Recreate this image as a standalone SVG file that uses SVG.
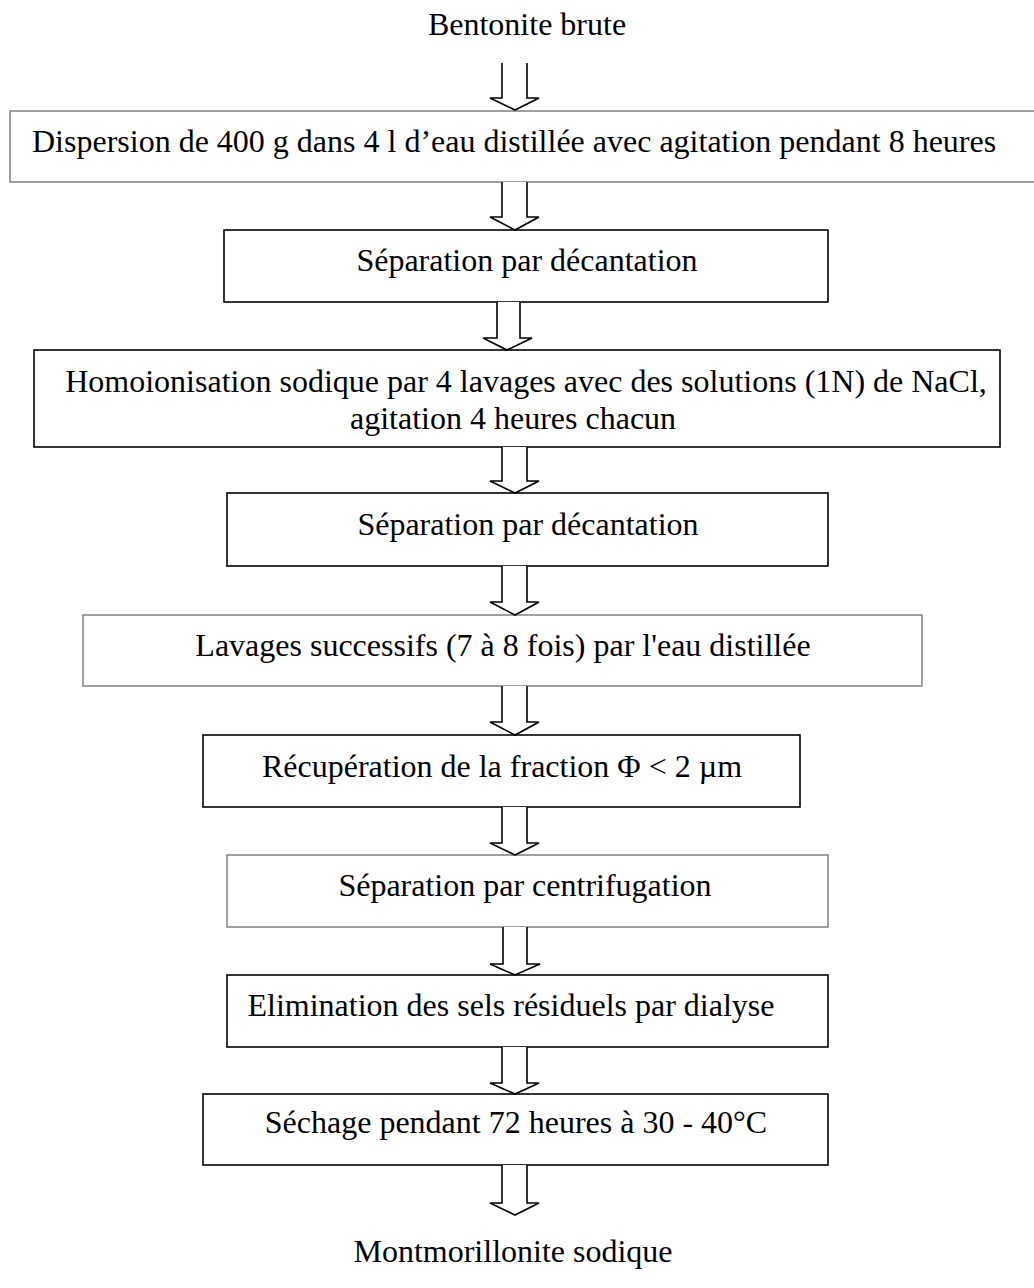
<svg xmlns="http://www.w3.org/2000/svg" width="1034" height="1288" viewBox="0 0 1034 1288">
<style>
text{font-family:"Liberation Serif","Times New Roman",serif;font-size:32px;fill:#000}
.m{text-anchor:middle}
.bk{fill:#fff;stroke:#000;stroke-width:1.6}
.gr{fill:#fff;stroke:#6e6e6e;stroke-width:1.3}
.ar{fill:#fff;stroke:#000;stroke-width:1.6;stroke-linejoin:miter}
</style>
<rect width="1034" height="1288" fill="#fff"/>
<g id="start"><text class="m" x="527" y="35">Bentonite brute</text></g>
<g id="n1"><rect class="gr" x="10" y="111" width="1040" height="71"/><text x="32" y="152">Dispersion de 400 g dans 4 l d’eau distillée avec agitation pendant 8 heures</text></g>
<g id="n2"><rect class="bk" x="224" y="230" width="604" height="72"/><text class="m" x="527" y="271">Séparation par décantation</text></g>
<g id="n3"><rect class="bk" x="34" y="350" width="966" height="97"/><text class="m" x="526" y="392">Homoionisation sodique par 4 lavages avec des solutions (1N) de NaCl,</text><text x="350" y="429">agitation 4 heures chacun</text></g>
<g id="n4"><rect class="bk" x="227" y="493" width="601" height="73"/><text class="m" x="528" y="535">Séparation par décantation</text></g>
<g id="n5"><rect class="gr" x="83" y="615" width="839" height="71"/><text class="m" x="503" y="656">Lavages successifs (7 à 8 fois) par l'eau distillée</text></g>
<g id="n6"><rect class="bk" x="203" y="735" width="597" height="72"/><text class="m" x="502" y="777">Récupération de la fraction Φ &lt; 2 µm</text></g>
<g id="n7"><rect class="gr" x="227" y="855" width="601" height="72"/><text class="m" x="525" y="896">Séparation par centrifugation</text></g>
<g id="n8"><rect class="bk" x="227" y="975" width="601" height="72"/><text class="m" x="511" y="1016">Elimination des sels résiduels par dialyse</text></g>
<g id="n9"><rect class="bk" x="203" y="1094" width="625" height="71"/><text class="m" x="516" y="1133">Séchage pendant 72 heures à 30 - 40°C</text></g>
<g id="end"><text class="m" x="513" y="1262">Montmorillonite sodique</text></g>
<g id="connectors">
<path class="ar" d="M502,63V98H490L515,110L539,98H527V63"/>
<path class="ar" d="M502,182V217H490L515,230L539,217H527V182"/>
<path class="ar" d="M497,302V338H483L507,350L532,338H520V302"/>
<path class="ar" d="M502,447V481H490L515,493L539,481H527V447"/>
<path class="ar" d="M502,566V602H490L515,615L539,602H527V566"/>
<path class="ar" d="M502,686V722H490L515,735L539,722H527V686"/>
<path class="ar" d="M502,807V843H490L515,855L539,843H527V807"/>
<path class="ar" d="M503,927V964H490L515,975L540,964H527V927"/>
<path class="ar" d="M502,1047V1083H490L515,1094L539,1083H527V1047"/>
<path class="ar" d="M502,1165V1203H490L515,1215L539,1203H527V1165"/>
</g>
</svg>
